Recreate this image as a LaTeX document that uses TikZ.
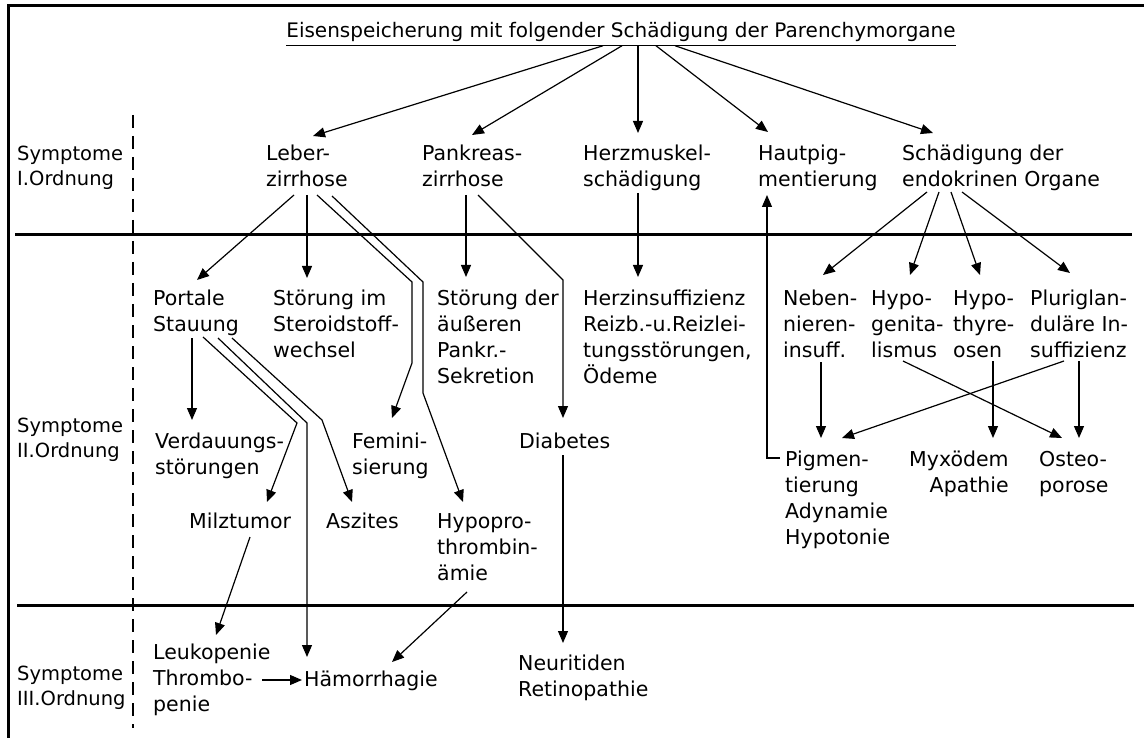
\documentclass[tikz,border=0pt]{standalone}
\usepackage{fontspec}
\setmainfont{DejaVu Sans}
\usetikzlibrary{arrows.meta,calc}
\tikzset{
  lbl/.style={anchor=north west,inner sep=0pt,align=left,font=\fontsize{20.5}{26}\selectfont},
  ordnung/.style={lbl,font=\fontsize{19.5}{25}\selectfont},
  conn/.style={line width=1.2pt,-{Triangle[length=12pt,width=10pt]}},
  rule/.style={line width=3pt},
  grenze/.style={line width=2.5pt,dash pattern=on 13pt off 8pt}
}

\begin{document}
\begin{tikzpicture}[x=1pt,y=-1pt]
  \useasboundingbox (0,0) rectangle (1144,738);
  \draw[rule] (8,738) -- (8,6) -- (1144,6);
  \draw[rule] (15,235) -- (1132,235);
  \draw[rule] (17,605) -- (1134,605);
  \draw[grenze] (133,115) -- (133,728);

  \node[lbl,anchor=north,font=\fontsize{20}{26}\selectfont] (titel) at (621,22)
    {Eisenspeicherung mit folgender Schädigung der Parenchymorgane};
  \draw[line width=1.2pt] ($(titel.south west)+(0,4)$) -- ($(titel.south east)+(0,4)$);

  % Symptome I. Ordnung
  \node[ordnung] (sym1) at (17,146) {Symptome\\I.Ordnung};
  \node[lbl] (leber) at (266,145) {Leber-\\zirrhose};
  \node[lbl] (pankreas) at (422,145) {Pankreas-\\zirrhose};
  \node[lbl] (herzm) at (583,145) {Herzmuskel-\\schädigung};
  \node[lbl] (hautp) at (758,145) {Hautpig-\\mentierung};
  \node[lbl] (endokr) at (902,145) {Schädigung der\\endokrinen Organe};

  % Symptome II. Ordnung
  \node[lbl] (portale) at (153,290) {Portale\\Stauung};
  \node[lbl] (steroid) at (273,290) {Störung im\\Steroidstoff-\\wechsel};
  \node[lbl] (sekretion) at (437,290) {Störung der\\äußeren\\Pankr.-\\Sekretion};
  \node[lbl] (herzins) at (583,290) {Herzinsuffizienz\\Reizb.-u.Reizlei-\\tungsstörungen,\\Ödeme};
  \node[lbl] (neben) at (783,290) {Neben-\\nieren-\\insuff.};
  \node[lbl] (genital) at (871,290) {Hypo-\\genita-\\lismus};
  \node[lbl] (thyreo) at (953,290) {Hypo-\\thyre-\\osen};
  \node[lbl] (pluri) at (1030,290) {Pluriglan-\\duläre In-\\suffizienz};
  \node[ordnung] (sym2) at (17,418) {Symptome\\II.Ordnung};
  \node[lbl] (verd) at (155,433) {Verdauungs-\\störungen};
  \node[lbl] (femini) at (352,433) {Femini-\\sierung};
  \node[lbl] (diab) at (519,433) {Diabetes};
  \node[lbl] (pigm) at (785,451) {Pigmen-\\tierung\\Adynamie\\Hypotonie};
  \node[lbl,align=right] (myx) at (909,451) {Myxödem\\Apathie};
  \node[lbl] (osteo) at (1039,451) {Osteo-\\porose};
  \node[lbl] (milz) at (189,513) {Milztumor};
  \node[lbl] (aszites) at (326,513) {Aszites};
  \node[lbl] (hypopro) at (437,513) {Hypopro-\\thrombin-\\ämie};

  % Symptome III. Ordnung
  \node[ordnung] (sym3) at (17,666) {Symptome\\III.Ordnung};
  \node[lbl] (leuko) at (153,644) {Leukopenie\\Thrombo-\\penie};
  \node[lbl] (haem) at (304,671) {Hämorrhagie};
  \node[lbl] (neur) at (518,655) {Neuritiden\\Retinopathie};

  \draw[conn] ($(titel.south)+(-18,4)$) -- ($(leber.north west)+(47,-9)$);
  \draw[conn] ($(titel.south)+(1,4)$) -- ($(pankreas.north west)+(50,-10)$);
  \draw[conn] ($(titel.south)+(17,4)$) -- ($(herzm.north west)+(55,-12)$);
  \draw[conn] ($(titel.south)+(35,4)$) -- ($(hautp.north west)+(10,-13)$);
  \draw[conn] ($(titel.south)+(54,4)$) -- ($(endokr.north west)+(31,-12)$);

  \draw[conn] ($(leber.north west)+(28,50)$) -- ($(portale.north west)+(44,-10)$);
  \draw[conn] ($(leber.north west)+(41,50)$) -- ($(steroid.north west)+(34,-12)$);
  \draw[conn] ($(leber.north west)+(51,50)$) -- ($(leber.north west)+(146,137)$)
    -- ++(0,81) -- ($(femini.north west)+(40,-15)$);
  \draw[conn] ($(leber.north west)+(66,51)$) -- ($(leber.north west)+(157,137)$)
    -- ++(0,111) -- ($(hypopro.north west)+(26,-11)$);
  \draw[conn] ($(pankreas.north west)+(44,50)$) -- ($(sekretion.north west)+(29,-13)$);
  \draw[conn] ($(pankreas.north west)+(56,50)$) -- ($(pankreas.north west)+(141,135)$)
    -- ($(diab.north west)+(44,-15)$);
  \draw[conn] ($(diab.north west)+(44,22)$) -- ($(neur.north west)+(45,-12)$);
  \draw[conn] ($(herzm.north west)+(55,48)$) -- ($(herzins.north west)+(55,-13)$);
  \draw[conn] ($(pigm.north west)+(-5,7)$) -| ($(hautp.north west)+(9,50)$);

  \draw[conn] ($(endokr.north west)+(25,47)$) -- ($(neben.north west)+(40,-15)$);
  \draw[conn] ($(endokr.north west)+(37,47)$) -- ($(genital.north west)+(39,-15)$);
  \draw[conn] ($(endokr.north west)+(49,47)$) -- ($(thyreo.north west)+(27,-15)$);
  \draw[conn] ($(endokr.north west)+(60,47)$) -- ($(pluri.north west)+(40,-17)$);
  \draw[conn] ($(neben.north west)+(38,72)$) -- ($(pigm.north west)+(36,-13)$);
  \draw[conn] ($(genital.north west)+(32,71)$) -- ($(osteo.north west)+(23,-13)$);
  \draw[conn] ($(thyreo.north west)+(40,71)$) -- ($(myx.north west)+(84,-13)$);
  \draw[conn] ($(pluri.north west)+(34,71)$) -- ($(pigm.north west)+(57,-13)$);
  \draw[conn] ($(pluri.north west)+(49,71)$) -- ($(osteo.north west)+(40,-13)$);

  \draw[conn] ($(portale.north west)+(39,48)$) -- ($(verd.north west)+(37,-13)$);
  \draw[conn] ($(portale.north west)+(50,47)$) -- ($(portale.north west)+(144,133)$)
    -- ($(milz.north west)+(78,-11)$);
  \draw[conn] ($(portale.north west)+(65,48)$) -- ($(portale.north west)+(154,133)$)
    -- ($(haem.north west)+(3,-14)$);
  \draw[conn] ($(portale.north west)+(79,48)$) -- ($(portale.north west)+(169,130)$)
    -- ($(aszites.north west)+(26,-11)$);
  \draw[conn] ($(milz.north west)+(61,24)$) -- ($(leuko.north west)+(63,-9)$);
  \draw[conn] ($(hypopro.north west)+(30,79)$) -- ($(haem.north west)+(88,-9)$);
  \draw[conn] ($(leuko.north west)+(109,36)$) -- ($(haem.north west)+(-2,9)$);
\end{tikzpicture}
\end{document}
